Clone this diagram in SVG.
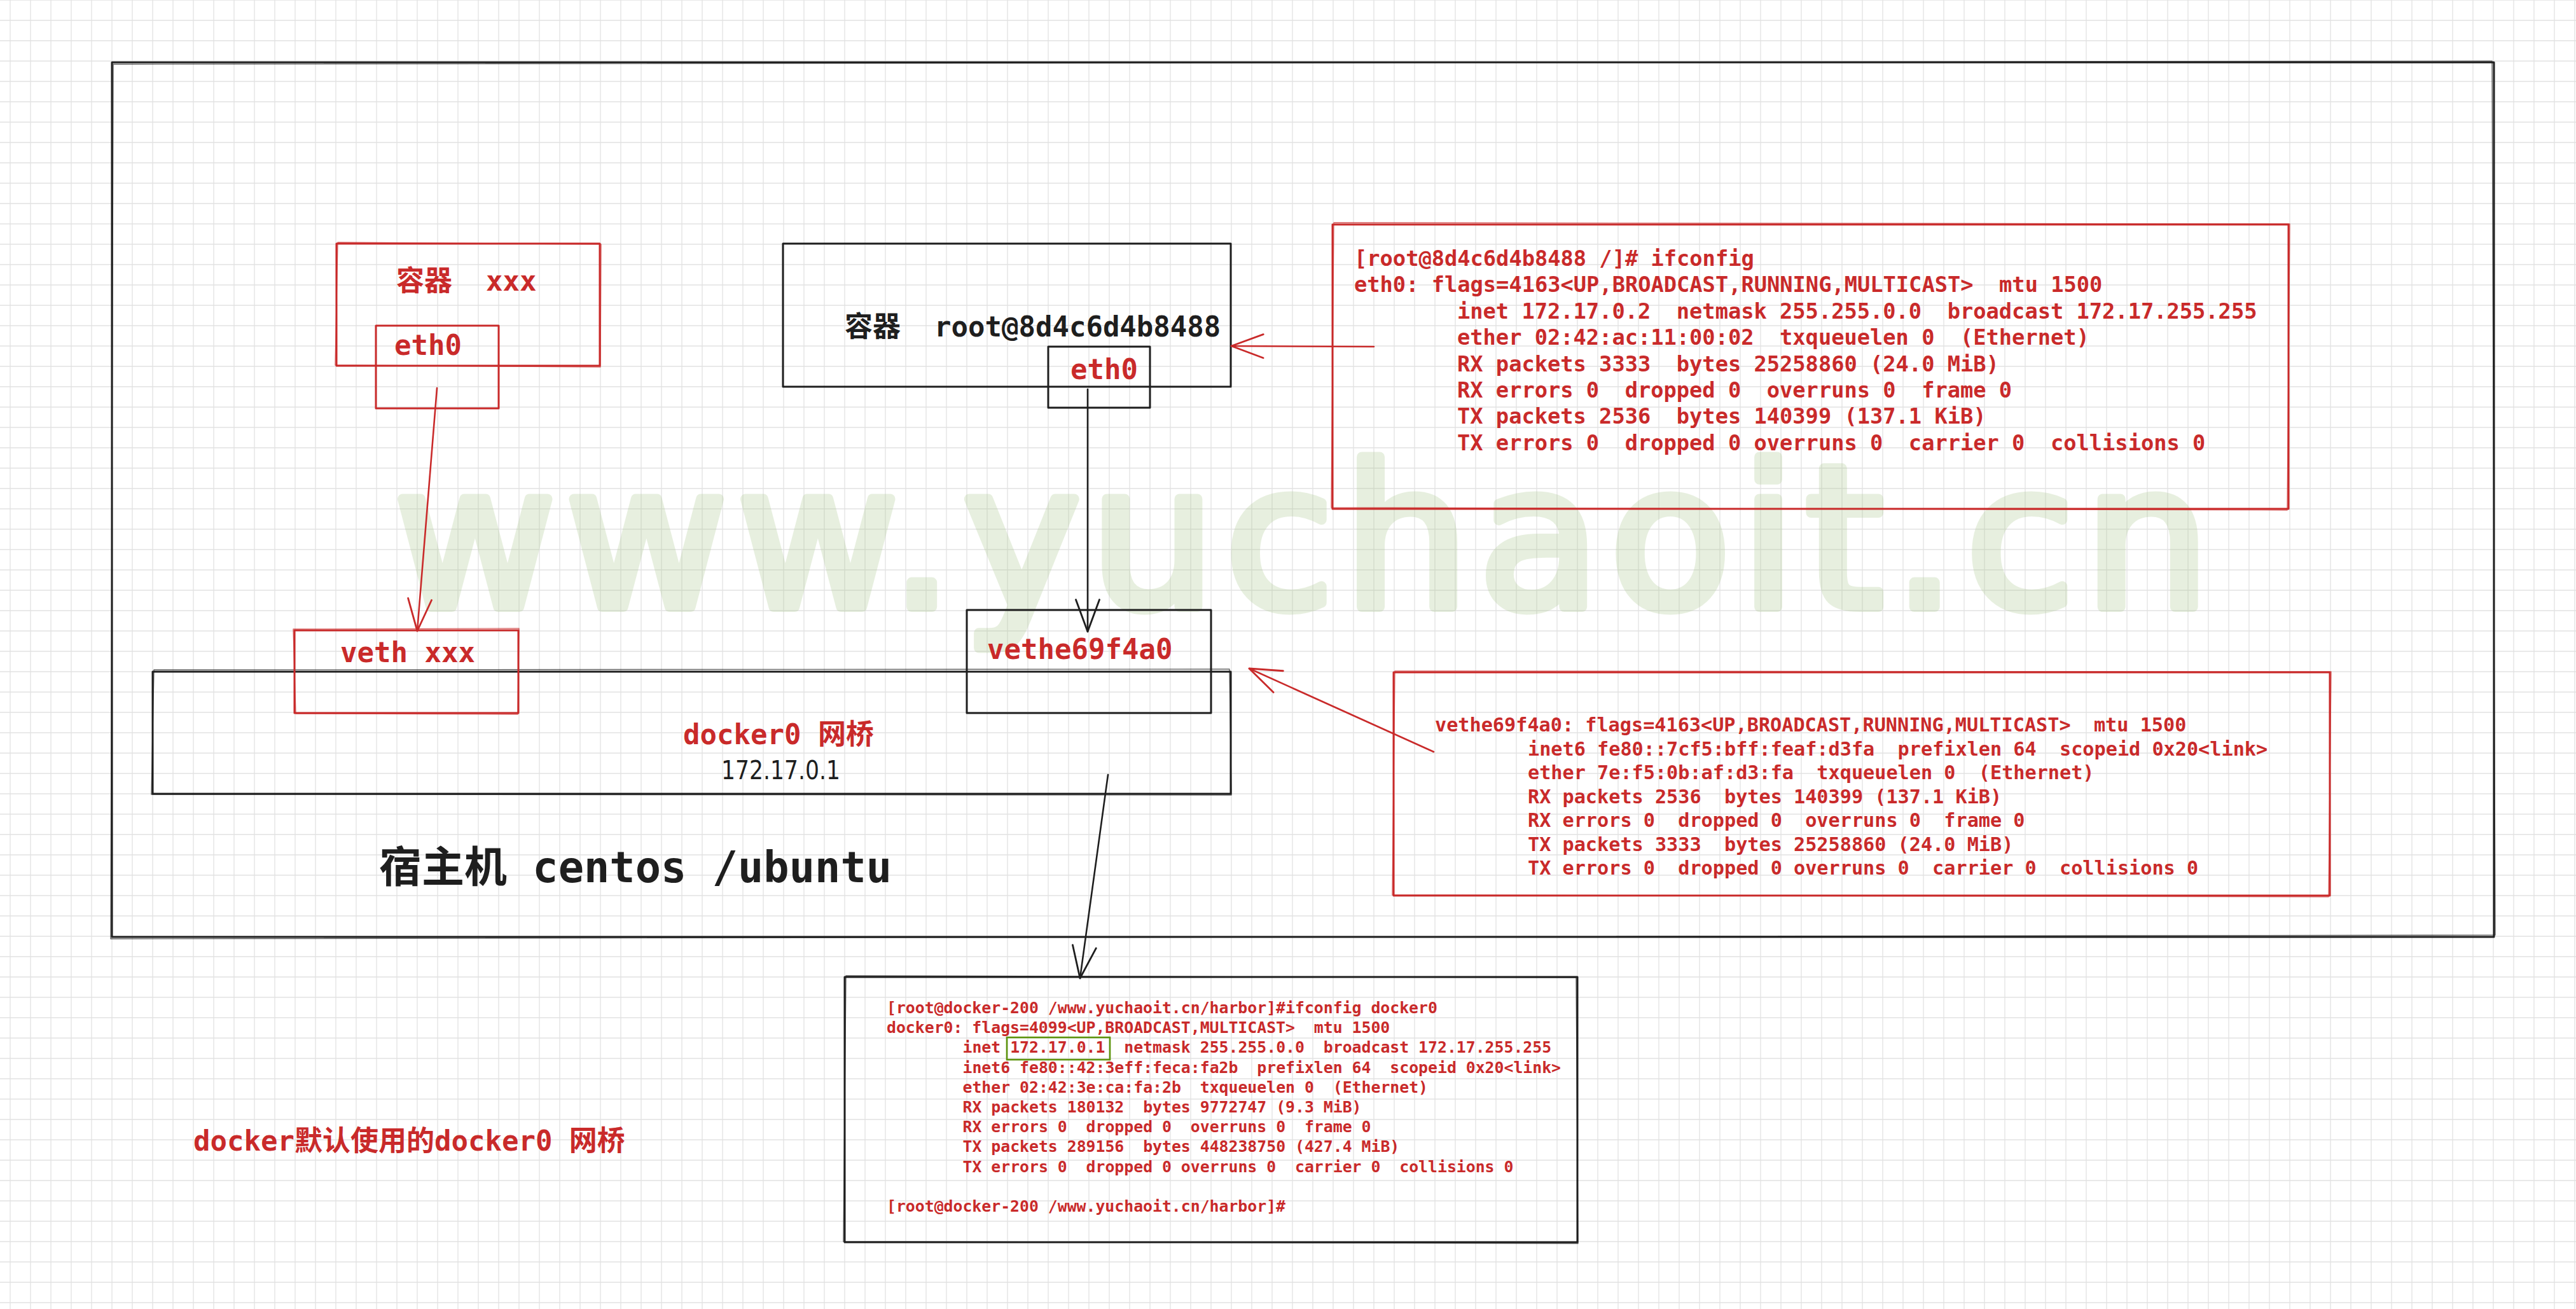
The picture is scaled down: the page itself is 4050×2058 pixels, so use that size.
<svg xmlns="http://www.w3.org/2000/svg" width="4050" height="2058" viewBox="0 0 4050 2058" xml:space="preserve">
<style>
text{white-space:pre}
.lbl{font-family:"DejaVu Sans Mono","Noto Sans CJK SC",monospace;font-size:44px;font-weight:bold}
.term{font-family:"DejaVu Sans Mono","Liberation Mono",monospace;fill:#c92a2a;font-weight:bold}
.t1{font-size:33.7px}
.t2{font-size:30.2px}
.t3{font-size:24.8px}
.red{fill:#c92a2a}
.blk{fill:#1e1e1e}
.rb{fill:none;stroke:#c92a2a;stroke-width:3;stroke-linejoin:round}
.bb{fill:none;stroke:#1e1e1e;stroke-width:3;stroke-linejoin:round}
.rl{fill:none;stroke:#c92a2a;stroke-width:2.6;stroke-linecap:round}
.bl{fill:none;stroke:#1e1e1e;stroke-width:2.6;stroke-linecap:round}
.dbl{fill:none;stroke-width:1.4;opacity:.7}
</style>
<defs>
<pattern id="grid" patternUnits="userSpaceOnUse" x="0" y="-16" width="32" height="32">
<path d="M0 16 H32 M16 0 V32" stroke="#e2e2e2" stroke-width="1.3" fill="none"/>
</pattern>
<marker id="ahR" markerUnits="userSpaceOnUse" orient="auto" refX="0" refY="0" markerWidth="60" markerHeight="60" viewBox="-50 -25 55 50" overflow="visible">
<path d="M-46,-17 L0,0 L-46,17" fill="none" stroke="#c92a2a" stroke-width="2.6" stroke-linecap="round" stroke-linejoin="round"/>
</marker>
<marker id="ahB" markerUnits="userSpaceOnUse" orient="auto" refX="0" refY="0" markerWidth="60" markerHeight="60" viewBox="-50 -25 55 50" overflow="visible">
<path d="M-46,-17 L0,0 L-46,17" fill="none" stroke="#1e1e1e" stroke-width="2.6" stroke-linecap="round" stroke-linejoin="round"/>
</marker>
</defs>
<rect width="4050" height="2058" fill="#ffffff"/>
<rect width="4050" height="2058" fill="url(#grid)"/>
<g id="watermark" opacity="0.25">
<text x="620" y="954" font-family="DejaVu Sans, sans-serif" font-size="310" textLength="2854" lengthAdjust="spacing" fill="#a3c383" stroke="#a3c383" stroke-width="16" stroke-linejoin="round">www.yuchaoit.cn</text>
</g>

<g id="host">
<rect class="bb" x="176" y="98" width="3745" height="1375"/>
<path class="bb dbl" stroke="#1e1e1e" d="M178 101 L3918 96 L3923 1470 L174 1476 Z"/>
<text class="lbl blk" x="596" y="1387" style="font-size:67px">宿主机 centos /ubuntu</text>
</g>

<g id="container-xxx">
<rect class="rb" x="529" y="383" width="414" height="192"/>
<path class="rb dbl" stroke="#c92a2a" d="M531 381 L945 384 L944 577 L527 574 Z"/>
<text class="lbl red" x="623" y="457">容器  xxx</text>
</g>
<g id="eth0-xxx">
<rect class="rb" x="591" y="512" width="193" height="130"/>
<text class="lbl red" x="620" y="558">eth0</text>
</g>

<g id="container-root">
<rect class="bb" x="1231" y="383" width="704" height="225"/>
<text class="lbl blk" x="1328" y="529">容器  root@8d4c6d4b8488</text>
</g>
<g id="eth0-root">
<rect class="bb" x="1648" y="545" width="160" height="96"/>
<text class="lbl red" x="1683" y="596">eth0</text>
</g>

<g id="docker0-bridge">
<rect class="bb" x="240" y="1056" width="1695" height="192"/>
<path class="bb dbl" stroke="#1e1e1e" d="M242 1053 L1933 1052 L1936 1250 L238 1249 Z"/>
<text class="lbl red" x="1074" y="1170">docker0 网桥</text>
<text x="1134" y="1225" font-family="DejaVu Sans, sans-serif" font-size="40" textLength="187" lengthAdjust="spacingAndGlyphs" class="blk">172.17.0.1</text>
</g>
<g id="veth-xxx">
<rect class="rb" x="463" y="991" width="352" height="130"/>
<path class="rb dbl" stroke="#c92a2a" d="M461 989 L816 988 L814 1123 L465 1122 Z"/>
<text class="lbl red" x="535" y="1041">veth xxx</text>
</g>
<g id="vethe69f4a0">
<rect class="bb" x="1520" y="959" width="384" height="162"/>
<text class="lbl red" x="1552" y="1036">vethe69f4a0</text>
</g>

<g id="ifconfig-eth0" xml:space="preserve">
<rect class="rb" x="2095" y="353" width="1503" height="447"/>
<path class="rb dbl" stroke="#c92a2a" d="M2097 350 L3600 352 L3596 802 L2093 798 Z"/>
<text class="term t1" x="2129" y="418">[root@8d4c6d4b8488 /]# ifconfig</text>
<text class="term t1" x="2129" y="459.4">eth0: flags=4163&lt;UP,BROADCAST,RUNNING,MULTICAST&gt;  mtu 1500</text>
<text class="term t1" x="2291" y="500.8">inet 172.17.0.2  netmask 255.255.0.0  broadcast 172.17.255.255</text>
<text class="term t1" x="2291" y="542.2">ether 02:42:ac:11:00:02  txqueuelen 0  (Ethernet)</text>
<text class="term t1" x="2291" y="583.6">RX packets 3333  bytes 25258860 (24.0 MiB)</text>
<text class="term t1" x="2291" y="625">RX errors 0  dropped 0  overruns 0  frame 0</text>
<text class="term t1" x="2291" y="666.4">TX packets 2536  bytes 140399 (137.1 KiB)</text>
<text class="term t1" x="2291" y="707.8">TX errors 0  dropped 0 overruns 0  carrier 0  collisions 0</text>
</g>

<g id="ifconfig-vethe69f4a0" xml:space="preserve">
<rect class="rb" x="2191" y="1057" width="1472" height="351"/>
<path class="rb dbl" stroke="#c92a2a" d="M2193 1055 L3665 1056 L3661 1410 L2189 1407 Z"/>
<text class="term t2" x="2256" y="1150">vethe69f4a0: flags=4163&lt;UP,BROADCAST,RUNNING,MULTICAST&gt;  mtu 1500</text>
<text class="term t2" x="2402" y="1187.5">inet6 fe80::7cf5:bff:feaf:d3fa  prefixlen 64  scopeid 0x20&lt;link&gt;</text>
<text class="term t2" x="2402" y="1225">ether 7e:f5:0b:af:d3:fa  txqueuelen 0  (Ethernet)</text>
<text class="term t2" x="2402" y="1262.5">RX packets 2536  bytes 140399 (137.1 KiB)</text>
<text class="term t2" x="2402" y="1300">RX errors 0  dropped 0  overruns 0  frame 0</text>
<text class="term t2" x="2402" y="1337.5">TX packets 3333  bytes 25258860 (24.0 MiB)</text>
<text class="term t2" x="2402" y="1375">TX errors 0  dropped 0 overruns 0  carrier 0  collisions 0</text>
</g>

<g id="ifconfig-docker0" xml:space="preserve">
<rect class="bb" x="1328" y="1536" width="1152" height="417"/>
<path class="bb dbl" stroke="#1e1e1e" d="M1330 1534 L2478 1537 L2481 1955 L1326 1952 Z"/>
<text class="term t3" x="1394" y="1593">[root@docker-200 /www.yuchaoit.cn/harbor]#ifconfig docker0</text>
<text class="term t3" x="1394" y="1624.2">docker0: flags=4099&lt;UP,BROADCAST,MULTICAST&gt;  mtu 1500</text>
<text class="term t3" x="1513.5" y="1655.4">inet 172.17.0.1  netmask 255.255.0.0  broadcast 172.17.255.255</text>
<text class="term t3" x="1513.5" y="1686.6">inet6 fe80::42:3eff:feca:fa2b  prefixlen 64  scopeid 0x20&lt;link&gt;</text>
<text class="term t3" x="1513.5" y="1717.8">ether 02:42:3e:ca:fa:2b  txqueuelen 0  (Ethernet)</text>
<text class="term t3" x="1513.5" y="1749">RX packets 180132  bytes 9772747 (9.3 MiB)</text>
<text class="term t3" x="1513.5" y="1780.2">RX errors 0  dropped 0  overruns 0  frame 0</text>
<text class="term t3" x="1513.5" y="1811.4">TX packets 289156  bytes 448238750 (427.4 MiB)</text>
<text class="term t3" x="1513.5" y="1842.6">TX errors 0  dropped 0 overruns 0  carrier 0  collisions 0</text>
<text class="term t3" x="1394" y="1905">[root@docker-200 /www.yuchaoit.cn/harbor]#</text>
<rect x="1583" y="1631" width="162" height="35" fill="none" stroke="#5c940d" stroke-width="2.6"/>
</g>

<g id="note">
<text class="lbl red" x="304" y="1809">docker默认使用的docker0 网桥</text>
</g>

<g id="connectors">
<path class="rl" d="M687 610 L656 992" marker-end="url(#ahR)"/>
<path class="bl" d="M1710 612 L1710 993" marker-end="url(#ahB)"/>
<path class="rl" d="M2160 545 L1936 544" marker-end="url(#ahR)"/>
<path class="rl" d="M2254 1182 L1964 1051" marker-end="url(#ahR)"/>
<path class="bl" d="M1742 1218 L1698 1538" marker-end="url(#ahB)"/>
</g>
</svg>
